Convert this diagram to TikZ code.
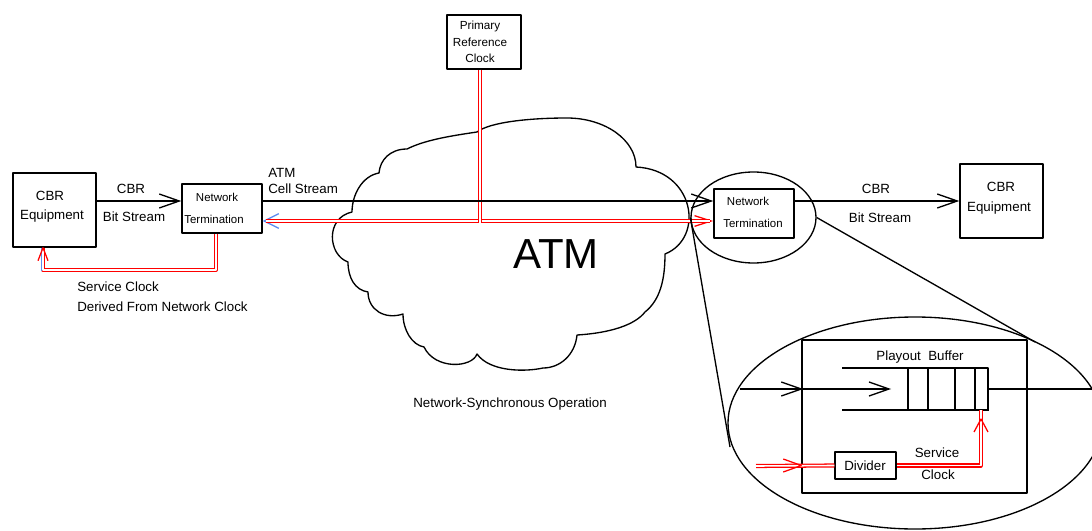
\documentclass[tikz,border=0pt]{standalone}
\usepackage{fontspec}
\setmainfont{Liberation Sans}
\usetikzlibrary{arrows.meta,calc,fit,shapes.geometric}
\definecolor{clkblue}{RGB}{95,140,240}

\begin{document}
\begin{tikzpicture}[x=0.75pt,y=-0.75pt,
  line join=round,
  box/.style={draw, line width=1.1pt, inner sep=0pt},
  lbl/.style={inner sep=0pt, text height=7.2pt, text depth=0pt, font=\fontsize{10pt}{12pt}\selectfont},
  small/.style={inner sep=0pt, text height=6.2pt, text depth=0pt, font=\fontsize{8.6pt}{10pt}\selectfont},
  prcfont/.style={inner sep=0pt, text height=6.3pt, text depth=0pt, font=\fontsize{8.8pt}{10pt}\selectfont},
  wire/.style={draw, line width=1pt},
  arr/.style={wire, -{Straight Barb[length=15pt,width=10.5pt]}},
  barb/.style={draw, line width=1pt},
  clk/.style={draw=red, double=white, line width=0.95pt, double distance=1.2pt},
  clkthin/.style={draw=red, line width=0.95pt},
]
\useasboundingbox (0,0) rectangle (1092,531);
\clip (0,0) rectangle (1092,531);

% ---- ATM network cloud ----
\draw[line width=1pt] (352,212) .. controls (352,195) and (362,176) .. (379,173)
 .. controls (380,160) and (390,149) .. (407,149)
 .. controls (425,140) and (450,136) .. (477,132)
 .. controls (490,122) and (530,118) .. (567,118)
 .. controls (605,118) and (636,140) .. (636,167)
 .. controls (695,170) and (705,238) .. (665,254)
 .. controls (665,280) and (660,300) .. (645,312)
 .. controls (635,325) and (610,333) .. (577,335)
 .. controls (575,355) and (560,368) .. (543,368)
 .. controls (525,372) and (490,372) .. (477,354)
 .. controls (472,368) and (435,370) .. (424,347)
 .. controls (412,345) and (403,330) .. (403,314)
 .. controls (385,320) and (368,310) .. (368,292)
 .. controls (355,290) and (348,278) .. (348,262)
 .. controls (328,255) and (325,218) .. cycle;
\node[inner sep=0pt, text height=22.5pt, text depth=0pt, font=\fontsize{31.5pt}{36pt}\selectfont] (atm) at (556,253) {ATM};
\node[lbl] (nso) at (510,403) {Network-Synchronous Operation};

% ---- boxes ----
\node[box, fit={(13,173)(96,247)}] (cbrL) {};
\node[lbl] (cbrLa) at (50,196) {CBR};
\node[lbl] (cbrLb) at (52,215) {Equipment};

\node[box, fit={(182,184)(262,233)}] (ntL) {};
\node[small] (ntLa) at (217,197) {Network};
\node[small] (ntLb) at (214,219) {Termination};

\node[box, fit={(447,15)(521,69)}] (prc) {};
\node[prcfont] (prca) at (480,25) {Primary};
\node[prcfont] (prcb) at (480,42) {Reference};
\node[prcfont] (prcc) at (480,58) {Clock};

\node[box, fit={(714,189)(794,238)}] (ntR) {};
\node[small] (ntRa) at (748,201) {Network};
\node[small] (ntRb) at (753,223) {Termination};

\node[box, fit={(960,164)(1043,238)}] (cbrR) {};
\node[lbl] (cbrRa) at (1001,187) {CBR};
\node[lbl] (cbrRb) at (999,207) {Equipment};

% ---- labels ----
\node[lbl] (bsLa) at (131,189) {CBR};
\node[lbl] (bsLb) at (134,217) {Bit Stream};
\node[lbl, anchor=west] (csa) at (268,173) {ATM};
\node[lbl, anchor=west] (csb) at (268,189) {Cell Stream};
\node[lbl] (bsRa) at (876,189) {CBR};
\node[lbl] (bsRb) at (880,218) {Bit Stream};
\node[lbl, anchor=west] (scA) at (77,287) {Service Clock};
\node[lbl, anchor=west] (scB) at (77,307) {Derived From Network Clock};

% ---- rows and columns ----
\coordinate (rowA) at (0,201);
\coordinate (rowB) at (0,221);
\coordinate (rowC) at (0,270);
\coordinate (colP) at (480,0);
\coordinate (colN) at (216,0);
\coordinate (colE) at (43,0);

% ---- network clock distribution ----
\draw[clkthin, {Straight Barb[color=clkblue,length=11pt,width=11pt]}-{Straight Barb[length=12.5pt,width=8pt]}]
  (ntL.east |- rowB) -- (ntR.west |- rowB);
\draw[clk, shorten <=2.5pt, shorten >=2.5pt] (ntL.east |- rowB) -- (ntR.west |- rowB);
\draw[clk] (prc.south -| colP) -- ($(rowB -| colP)+(0,2)$);

\draw[clk] (ntL.south -| colN) -- (rowC -| colN) -- (rowC -| colE) -- (cbrL.south -| colE);
\draw[clkblue, line width=0.95pt] ($(rowC -| colE)+(-1.4,1.4)$) -- ($(cbrL.south -| colE)+(-1.4,0)$);
\draw[clkthin] ($(cbrL.south -| colE)+(-5,13)$) -- (cbrL.south -| colE) -- ($(cbrL.south -| colE)+(5,13)$);

% ---- bit streams ----
\draw[arr] (cbrL.east |- rowA) -- (ntL.west |- rowA);
\draw[arr] (ntL.east |- rowA) -- (ntR.west |- rowA);
\draw[arr] (ntR.east |- rowA) -- (cbrR.west |- rowA);

% ---- magnified view of the receiving termination ----
\node[draw, ellipse, line width=1pt, inner sep=0pt, minimum width=93.75pt, minimum height=68.25pt] (zoomS) at (753.5,217.5) {};
\node[draw, ellipse, line width=1pt, inner sep=0pt, minimum width=280.5pt, minimum height=159pt] (zoomB) at (915,423) {};
\coordinate (zEndA) at (1035,342);
\coordinate (zEndB) at (730,447);
\draw[wire] (zoomS.east) -- (zEndA);
\draw[wire] (zoomS.west) -- (zEndB);

\node[box, fit={(802,340)(1027,493)}] (pbox) {};
\node[lbl] (pbt) at (920,356) {Playout\ \ Buffer};

% playout buffer cells
\draw[wire] (842,368) -- (988,368) -- (988,411);
\draw[wire] (842,410) -- (988,410);
\foreach \cx in {908,928,955,975} \draw[wire] (\cx,368) -- (\cx,411);
\coordinate (bufIn) at (891,389);
\coordinate (bufOut) at (988,389);
\coordinate (bufClk) at (981,410);

\node[box, fit={(835,452)(896,479)}] (div) {};
\node[lbl] (divt) at (865,466) {Divider};
\node[lbl] (svA) at (937,453) {Service};
\node[lbl] (svB) at (938,475) {Clock};

% cell stream through the buffer
\coordinate (inA) at (740,389);
\draw[arr] (inA) -- (bufIn);
\draw[barb] ($(pbox.west |- inA)+(-20,-7)$) -- (pbox.west |- inA) -- ($(pbox.west |- inA)+(-20,7)$);
\draw[wire] (bufOut) -- (bufOut -| zoomB.east);

% clock through the divider
\coordinate (inR) at (756,466);
\coordinate (colB) at (981,0);
\draw[clk] (inR) -- (div.west);
\draw[clkthin] ($(pbox.west |- div.west)+(-18,-6.5)$) -- (pbox.west |- div.west) -- ($(pbox.west |- div.west)+(-18,6.5)$);
\draw[clk] (div.east) -- (div.east -| colB) -- (bufClk);
\draw[clkthin] ($(bufClk)+(-7,22)$) -- ($(bufClk)+(0,9)$) -- ($(bufClk)+(7,22)$);
\end{tikzpicture}
\end{document}
